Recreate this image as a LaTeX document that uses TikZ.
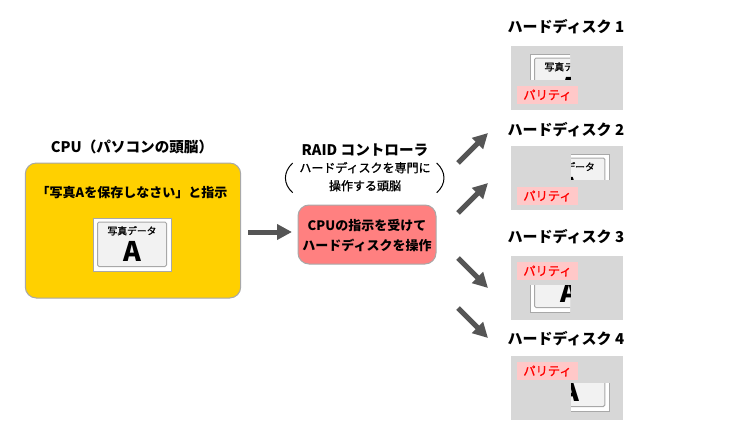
\documentclass[tikz,border=0pt]{standalone}
\usepackage{fontspec}
\setmainfont{Noto Sans CJK JP}
\newfontfamily\medf[FakeBold=1.2]{Noto Sans CJK JP}
\usetikzlibrary{arrows.meta}
\definecolor{cpuy}{HTML}{FFD000}
\definecolor{raidr}{HTML}{FF8080}
\definecolor{diskg}{HTML}{D7D7D7}
\definecolor{arrowg}{HTML}{555555}
\definecolor{bordg}{HTML}{A8A8A8}
\definecolor{cardf}{HTML}{F2F2F2}
\definecolor{parf}{HTML}{FFC8C8}
\tikzset{
 txt/.style={inner sep=0pt,outer sep=0pt,anchor=base,text=black},
 ttl/.style={txt,yshift=-5.2pt,font=\bfseries\fontsize{14.6}{14.6}\selectfont},
 dsk/.style={txt,yshift=-5.4pt,font=\bfseries\fontsize{15}{15}\selectfont},
 mid/.style={txt,yshift=-4.7pt,font=\bfseries\fontsize{13}{13}\selectfont},
 subt/.style={txt,yshift=-4.3pt,font=\medf\fontsize{12}{12}\selectfont},
 bigarrow/.style={draw=arrowg,line width=5pt,-{Triangle[length=15pt,width=15pt]}},
 paren/.style={draw=black,line width=1pt},
 diskbox/.style={fill=diskg,draw=none},
 parity/.style={fill=parf,inner sep=0pt,minimum width=61pt,minimum height=18pt,text=red,font=\medf\fontsize{12.3}{12.3}\selectfont},
}
\newcommand{\photocard}[2]{%
 \begin{scope}[shift={(#1,#2)}]
  \fill[white] (0,0) rectangle (77.4,52.7);
  \draw[bordg] (0,0) rectangle (77.4,52.7);
  \draw[bordg,fill=cardf,line width=1pt,rounded corners=1.5pt] (4.2,4) rectangle (73.2,48.5);
  \node[txt,yshift=-3.5pt,font=\medf\fontsize{9.8}{9.8}\selectfont] at (38.7,13) {写真データ};
  \node[txt,yshift=-9.9pt,font=\bfseries\fontsize{27}{27}\selectfont] at (38.7,33.7) {A};
 \end{scope}}
\begin{document}
\begin{tikzpicture}[x=1pt,y=-1pt]
\useasboundingbox (0,0) rectangle (734,439);
% CPU
\node[ttl] (cputitle) at (132,147) {CPU（パソコンの頭脳）};
\draw[fill=cpuy,draw=bordg,line width=1pt,rounded corners=11pt] (25.3,163) rectangle (240.7,298);
\node[txt,yshift=-4.7pt,font=\bfseries\fontsize{13}{13}\selectfont] (order) at (132,193) {「写真Aを保存しなさい」と指示};
\photocard{93.3}{218}
% RAID
\node[ttl] (raidtitle) at (365,150) {RAID コントローラ};
\node[subt] (raidsub1) at (365,168) {ハードディスクを専門に};
\node[subt] (raidsub2) at (365,186) {操作する頭脳};
\draw[paren] (292.7,163) .. controls (283,172) and (283,184) .. (292.7,192.7);
\draw[paren] (436.7,163) .. controls (446.4,172) and (446.4,184) .. (436.7,192.7);
\draw[fill=raidr,draw=bordg,line width=1pt,rounded corners=11pt] (298,205) rectangle (436,264);
\node[mid] (raid1) at (367,226) {CPUの指示を受けて};
\node[mid] (raid2) at (367,246) {ハードディスクを操作};
% arrows
\coordinate (a0s) at (248,232); \coordinate (a0e) at (292,232);
\coordinate (a1s) at (458,163); \coordinate (a1e) at (488,133);
\coordinate (a2s) at (458,213); \coordinate (a2e) at (488,183);
\coordinate (a3s) at (458,258); \coordinate (a3e) at (488,288);
\coordinate (a4s) at (458,308); \coordinate (a4e) at (488,338);
\foreach \n in {0,1,2,3,4} \draw[bigarrow] (a\n s) -- (a\n e);
% disk 1
\node[dsk] (d1t) at (566,27) {ハードディスク 1};
\fill[diskbox] (511,46) rectangle (623,110);
\begin{scope}\clip (511,46) rectangle (570,79.5); \photocard{530.3}{54} \end{scope}
\node[parity] (p1) at (547.5,95) {パリティ};
% disk 2
\node[dsk] (d2t) at (566,130) {ハードディスク 2};
\fill[diskbox] (511,146) rectangle (623,210);
\begin{scope}\clip (571,146) rectangle (623,179.5); \photocard{531.6}{154} \end{scope}
\node[parity] (p2) at (547.5,196) {パリティ};
% disk 3
\node[dsk] (d3t) at (566,237) {ハードディスク 3};
\fill[diskbox] (511,256) rectangle (623,320);
\begin{scope}\clip (511,285) rectangle (570,320); \photocard{530.3}{259} \end{scope}
\node[parity] (p3) at (547.5,271) {パリティ};
% disk 4
\node[dsk] (d4t) at (566,339) {ハードディスク 4};
\fill[diskbox] (511,356) rectangle (623,420);
\begin{scope}\clip (571,383) rectangle (623,420); \photocard{531.6}{358} \end{scope}
\node[parity] (p4) at (547.5,371) {パリティ};
\end{tikzpicture}
\end{document}
